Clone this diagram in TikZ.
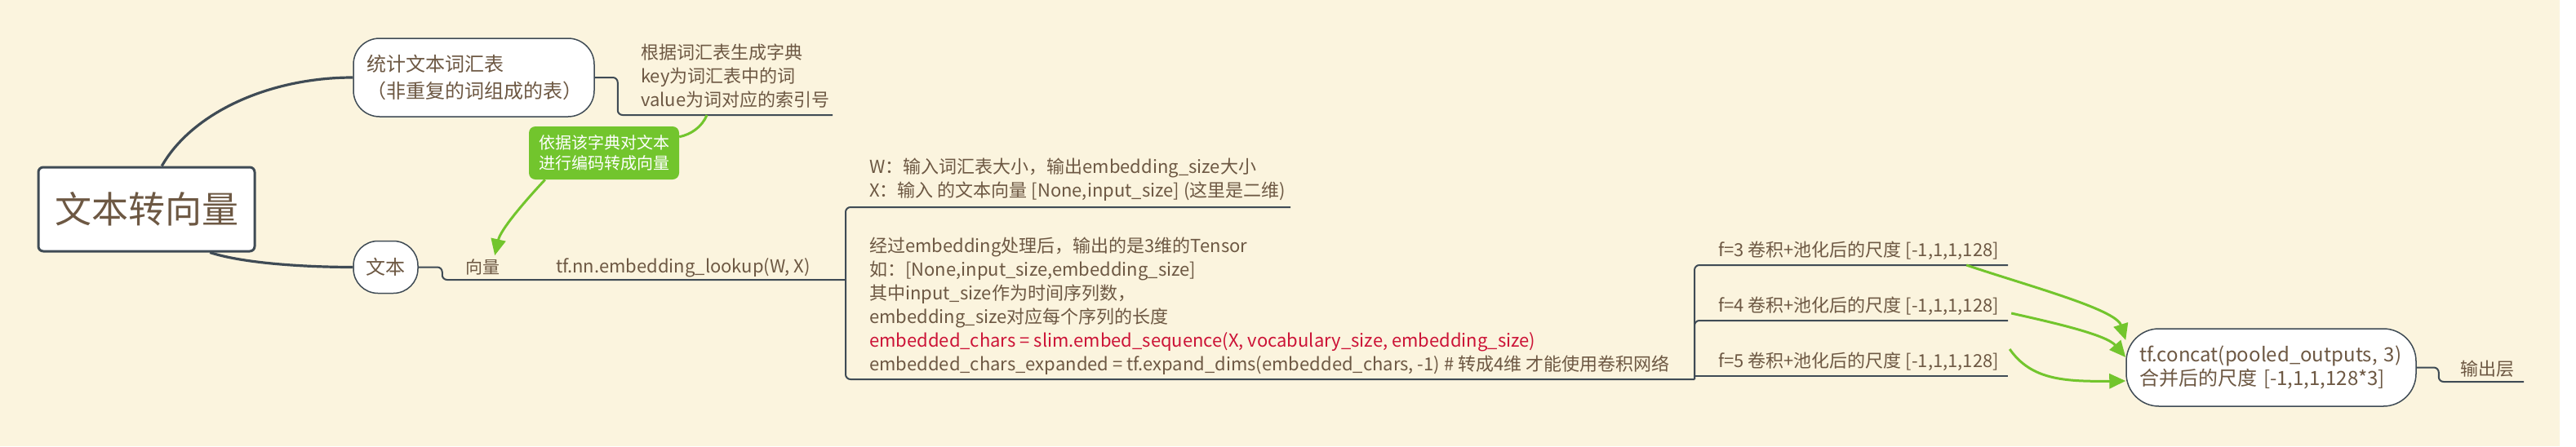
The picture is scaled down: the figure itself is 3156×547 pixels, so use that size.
\documentclass[tikz,border=0pt]{standalone}
\usepackage{fontspec}
\setmainfont{Noto Sans CJK SC}
\usepackage{tikz}
\usetikzlibrary{arrows.meta, calc, positioning}
\definecolor{hgrund}{HTML}{FBF4DE}
\definecolor{linie}{HTML}{3F4B55}
\definecolor{schrift}{HTML}{6D5843}
\definecolor{gruen}{HTML}{72C52D}
\definecolor{rot}{HTML}{CC1236}

\begin{document}
\begin{tikzpicture}[
    x=1pt, y=-1pt,
    every node/.style={text=schrift, inner sep=0pt},
    thema/.style={draw=linie, fill=white, line width=1.5pt, rounded corners=32pt,
                  align=left, font=\fontsize{24}{33}\selectfont},
    etikett/.style={anchor=west, align=left, font=\fontsize{22}{29}\selectfont},
    ast/.style={draw=linie, line width=2pt, rounded corners=6pt},
    hauptast/.style={draw=linie, line width=3.2pt},
    gruenlinie/.style={draw=gruen, line width=3pt},
    pfeil/.style={gruenlinie, -{Triangle[length=20pt, width=18pt]}},
  ]
  % Hintergrund
  \fill[hgrund] (0,0) rectangle (3136,547);
  \fill[white] (3136,0) rectangle (3156,547);
  \useasboundingbox (0,0) rectangle (3156,547);

  % Themen
  \node[draw=linie, fill=white, line width=3pt, rounded corners=6pt,
        minimum width=265pt, minimum height=103pt,
        font=\fontsize{45}{50}\selectfont] (wurzel) at (179.5,256.5) {文本转向量};
  \node[thema, minimum width=295pt, minimum height=96pt, text width=263pt,
        inner xsep=16pt] (vokabel) at (580.5,95) {统计文本词汇表\\（非重复的词组成的表）};
  \node[thema, minimum width=79pt, minimum height=64pt, rounded corners=30pt,
        align=center] (text) at (472.5,327.5) {文本};
  \node[thema, minimum width=355pt, minimum height=95pt, text width=323pt,
        inner xsep=16pt, rounded corners=40pt,
        font=\fontsize{24}{29}\selectfont] (concat) at (2782.5,450.5)
        {tf.concat(pooled\_outputs, 3)\\合并后的尺度 [-1,1,1,128*3]};
  \node[fill=gruen, rounded corners=8pt, minimum width=184pt, minimum height=65pt,
        text=white, align=center, font=\fontsize{20}{25}\selectfont]
        (hinweis) at (740,187.5) {依据该字典对文本\\进行编码转成向量};

  % Beschriftungen
  \node[etikett] (woerterbuch) at (785,93.5)
        {根据词汇表生成字典\\key为词汇表中的词\\value为词对应的索引号};
  \node[etikett, font=\fontsize{21}{29}\selectfont] (vektor) at (570,327) {向量};
  \node[etikett] (lookup) at (681,328) {tf.nn.embedding\_lookup(W, X)};
  \node[etikett] (wx) at (1065,220)
        {W：输入词汇表大小，输出embedding\_size大小\\X：输入 的文本向量 [None,input\_size] (这里是二维)};
  \node[etikett] (details) at (1065,375.5)
        {经过embedding处理后，输出的是3维的Tensor\\
         如：[None,input\_size,embedding\_size]\\
         其中input\_size作为时间序列数，\\
         embedding\_size对应每个序列的长度\\
         \textcolor{rot}{embedded\_chars = slim.embed\_sequence(X, vocabulary\_size, embedding\_size)}\\
         embedded\_chars\_expanded = tf.expand\_dims(embedded\_chars, -1) \# 转成4维 才能使用卷积网络};
  \node[etikett] (f3) at (2105,307) {f=3 卷积+池化后的尺度 [-1,1,1,128]};
  \node[etikett] (f4) at (2105,375) {f=4 卷积+池化后的尺度 [-1,1,1,128]};
  \node[etikett] (f5) at (2105,443) {f=5 卷积+池化后的尺度 [-1,1,1,128]};
  \node[etikett] (ausgabe) at (3014,452) {输出层};

  % Endpunkte der Unterstriche
  \coordinate (wo) at ($(wurzel.north west)!0.57!(wurzel.north east)$);
  \coordinate (wu) at ($(wurzel.south west)!0.79!(wurzel.south east)$);
  \coordinate (wbEnde) at (1020,141);
  \coordinate (wbAnker) at (866,141);
  \coordinate (knoten) at (1036,343);
  \coordinate (wxEnde) at (1581,254);
  \coordinate (detEnde) at (2076,465);
  \coordinate (f3Ende) at (2460,325);
  \coordinate (f4Ende) at (2460,393);
  \coordinate (f5Ende) at (2460,461);
  \coordinate (ausEnde) at (3092,468);

  % Hauptaeste
  \draw[hauptast] (wo) .. controls +(37,-65) and +(-103,0) .. (vokabel.west);
  \draw[hauptast] (wu) .. controls +(43,14) and +(-53,0) .. (text.west);

  % Unteraeste
  \draw[ast] (vokabel.east) -- ++(28,0) |- (wbEnde);
  \draw[ast] (text.east) -- ++(29,0) |- (knoten);
  \draw[ast] (wxEnde) -| (knoten) |- (detEnde);
  \draw[ast] (detEnde) |- (f3Ende);
  \draw[ast] (detEnde) |- (f4Ende);
  \draw[ast] (detEnde |- f5Ende) -- (f5Ende);
  \draw[ast] (concat.east) -- ++(27,0) |- (ausEnde);

  % Beziehungen
  \draw[gruenlinie] (wbAnker) .. controls +(-6,15) and +(14,-3) .. ([yshift=-13pt]hinweis.north east);
  \draw[pfeil] ([xshift=20pt]hinweis.south west) .. controls +(-28,30) and +(7,-31)
    .. ([xshift=15pt, yshift=4pt]vektor.north);
  \draw[pfeil] ([xshift=-40pt, yshift=-18pt]f3.east) .. controls +(74,25) and +(-12,-38)
    .. ([yshift=33.5pt]concat.west);
  \draw[pfeil] ([xshift=15pt, yshift=-9pt]f4.east) .. controls +(49,11) and +(-24,-28)
    .. ([yshift=12.5pt]concat.west);
  \draw[pfeil] ([xshift=13pt, yshift=15pt]f5.east) .. controls +(26,37) and +(-77,1)
    .. ([yshift=-16.5pt]concat.west);
\end{tikzpicture}
\end{document}
